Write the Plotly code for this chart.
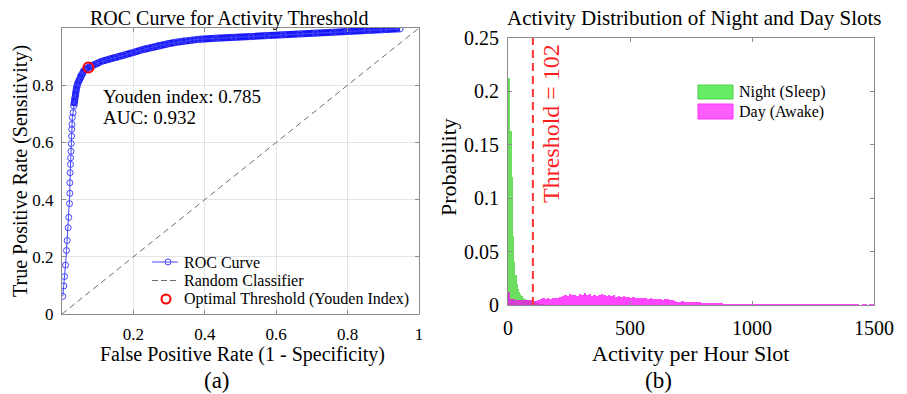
import numpy as np
import plotly.graph_objects as go

FONT = "Liberation Serif, Times New Roman, serif"

# ---------------- ROC data (panel a) ----------------
roc_fpr = [0.0023, 0.0051, 0.0070, 0.0098, 0.0126, 0.0145, 0.0173, 0.0190, 0.0210, 0.0220,
           0.0220, 0.0228, 0.0238, 0.0240, 0.0250, 0.0260, 0.0270, 0.0272, 0.0280, 0.0290,
           0.0310, 0.0330, 0.0350, 0.0380, 0.0410, 0.0450, 0.0520, 0.0610, 0.0740, 0.0900,
           0.1080, 0.1300, 0.1540, 0.1750, 0.2010, 0.2250, 0.2480, 0.2700, 0.2940, 0.3200,
           0.3410, 0.3650, 0.3870, 0.4300, 0.4810, 0.5300, 0.5740, 0.6200, 0.6670, 0.7100,
           0.7600, 0.8000, 0.8540, 0.9000, 0.9470]
roc_tpr = [0.062, 0.098, 0.131, 0.171, 0.222, 0.257, 0.302, 0.338, 0.386, 0.422,
           0.459, 0.494, 0.523, 0.546, 0.569, 0.596, 0.622, 0.646, 0.663, 0.687,
           0.704, 0.727, 0.751, 0.774, 0.792, 0.809, 0.833, 0.850, 0.862, 0.872,
           0.882, 0.890, 0.897, 0.905, 0.915, 0.924, 0.932, 0.939, 0.944, 0.950,
           0.955, 0.958, 0.961, 0.964, 0.967, 0.970, 0.973, 0.976, 0.979, 0.982,
           0.985, 0.988, 0.991, 0.994, 0.997]
opt_fpr = [0.074]
opt_tpr = [0.862]
diag_x = [0, 1]
diag_y = [0, 1]
youden_index = 0.785
auc_value = 0.932
legend_a_labels = ["ROC Curve", "Random Classifier", "Optimal Threshold (Youden Index)"]

# ---------------- Histogram data (panel b) ----------------
night_bin_width = 5
night_prob = [0.213, 0.213, 0.163, 0.120, 0.065, 0.040, 0.028, 0.020, 0.015, 0.012,
              0.010, 0.008, 0.0068, 0.006, 0.0055, 0.005, 0.0048, 0.0045, 0.004, 0.0042,
              0.0035, 0.003, 0.0025, 0.002, 0.0015, 0.0012, 0.001, 0.0008, 0.0006, 0.0005]
day_bin_width = 10
day_prob = [0.0125, 0.0060, 0.0055, 0.0050, 0.0050, 0.0048, 0.0050, 0.0045, 0.0048, 0.0045,
            0.0040, 0.0042, 0.0048, 0.0055, 0.0062, 0.0058, 0.0065, 0.0060, 0.0068, 0.0062,
            0.0070, 0.0075, 0.0085, 0.0092, 0.0088, 0.0105, 0.0095, 0.0098, 0.0085, 0.0105,
            0.0090, 0.0112, 0.0095, 0.0102, 0.0088, 0.0098, 0.0085, 0.0092, 0.0105, 0.0098,
            0.0088, 0.0095, 0.0082, 0.0092, 0.0078, 0.0085, 0.0075, 0.0080, 0.0072, 0.0078,
            0.0070, 0.0074, 0.0068, 0.0065, 0.0070, 0.0062, 0.0065, 0.0060, 0.0062, 0.0058,
            0.0060, 0.0055, 0.0058, 0.0050, 0.0052, 0.0055, 0.0048, 0.0045, 0.0038, 0.0032,
            0.0030, 0.0035, 0.0032, 0.0028, 0.0030, 0.0026, 0.0028, 0.0024, 0.0026, 0.0022,
            0.0022, 0.0020, 0.0022, 0.0018, 0.0020, 0.0016, 0.0018, 0.0015, 0.0014, 0.0013,
            0.0012, 0.0011, 0.0012, 0.0010, 0.0011, 0.0010, 0.0009, 0.0011, 0.0010, 0.0009,
            0.0010, 0.0008, 0.0009, 0.0010, 0.0008, 0.0009, 0.0008, 0.0007, 0.0009, 0.0008,
            0.0008, 0.0007, 0.0008, 0.0009, 0.0007, 0.0008, 0.0007, 0.0006, 0.0008, 0.0007,
            0.0007, 0.0006, 0.0007, 0.0008, 0.0006, 0.0007, 0.0006, 0.0006, 0.0007, 0.0006,
            0.0006, 0.0005, 0.0006, 0.0007, 0.0005, 0.0006, 0.0005, 0.0006, 0.0005, 0.0006,
            0.0005, 0.0005, 0.0006, 0.0005, 0.0004, 0.0005, 0.0005, 0.0004, 0.0005, 0.0005]
threshold = 102
legend_b_labels = ["Night (Sleep)", "Day (Awake)"]

x_ticks_a = [0.2, 0.4, 0.6, 0.8, 1]
x_ticklabels_a = ["0.2", "0.4", "0.6", "0.8", "1"]
y_ticks_a = [0, 0.2, 0.4, 0.6, 0.8]
y_ticklabels_a = ["0", "0.2", "0.4", "0.6", "0.8"]
x_ticks_b = [0, 500, 1000, 1500]
x_ticklabels_b = ["0", "500", "1000", "1500"]
y_ticks_b = [0, 0.05, 0.1, 0.15, 0.2, 0.25]
y_ticklabels_b = ["0", "0.05", "0.1", "0.15", "0.2", "0.25"]

# ---------------- figure ----------------
W, H = 907, 394
def px(x):
    return x / W
def py(y):
    return (H - y) / H

fig = go.Figure()

ROC_C = "rgb(70,70,255)"
band_idx = [i for i, t in enumerate(roc_tpr) if t >= 0.727]
fig.add_trace(go.Scatter(
    x=[roc_fpr[i] for i in band_idx], y=[roc_tpr[i] for i in band_idx],
    mode="lines", line=dict(color="rgb(25,25,245)", width=7),
    hoverinfo="skip", xaxis="x", yaxis="y"))
fig.add_trace(go.Scatter(
    x=roc_fpr, y=roc_tpr, mode="lines+markers", name=legend_a_labels[0],
    line=dict(color=ROC_C, width=1),
    marker=dict(symbol="circle-open", size=6, color=ROC_C, line=dict(width=1)),
    xaxis="x", yaxis="y"))
fig.add_trace(go.Scatter(
    x=diag_x, y=diag_y, mode="lines", name=legend_a_labels[1],
    line=dict(color="rgb(110,110,110)", width=1, dash="6px,4px"),
    xaxis="x", yaxis="y"))
fig.add_trace(go.Scatter(
    x=opt_fpr, y=opt_tpr, mode="markers", name=legend_a_labels[2],
    marker=dict(symbol="circle-open", size=10, color="rgb(255,0,0)", line=dict(width=2)),
    xaxis="x", yaxis="y"))

night_left = np.arange(len(night_prob)) * night_bin_width
day_left = np.arange(len(day_prob)) * day_bin_width
NIGHT_C = "rgba(40,205,20,0.68)"
DAY_C = "rgba(255,0,255,0.72)"
fig.add_trace(go.Bar(
    x=night_left + night_bin_width / 2, y=night_prob, width=night_bin_width,
    marker=dict(color=NIGHT_C, line=dict(width=0)), name=legend_b_labels[0],
    xaxis="x2", yaxis="y2"))
fig.add_trace(go.Bar(
    x=day_left + day_bin_width / 2, y=day_prob, width=day_bin_width,
    marker=dict(color=DAY_C, line=dict(width=0)), name=legend_b_labels[1],
    xaxis="x2", yaxis="y2"))
fig.add_trace(go.Scatter(
    x=[threshold, threshold], y=[0, 0.25], mode="lines",
    line=dict(color="rgb(255,50,50)", width=2, dash="8px,5px"),
    xaxis="x2", yaxis="y2"))

AX = dict(showline=True, linecolor="#8c8c8c", linewidth=1, mirror="allticks",
          ticks="inside", ticklen=4, tickcolor="#8c8c8c", zeroline=False,
          automargin=False)

fig.update_layout(
    width=W, height=H, margin=dict(l=0, r=0, t=0, b=0, autoexpand=False),
    plot_bgcolor="white", paper_bgcolor="white", barmode="overlay", bargap=0,
    showlegend=False,
    font=dict(family=FONT, color="black"),
    xaxis=dict(AX, domain=[px(62), px(419)], range=[0, 1], tickvals=x_ticks_a,
               ticktext=x_ticklabels_a, showgrid=True, gridcolor="#e4e4e4",
               tickfont=dict(family=FONT, size=17, color="black"), ticklabelstandoff=5,
               anchor="y"),
    yaxis=dict(AX, domain=[py(314), py(28)], range=[0, 1], tickvals=y_ticks_a,
               ticktext=y_ticklabels_a, showgrid=True, gridcolor="#e4e4e4",
               tickfont=dict(family=FONT, size=17, color="black"), ticklabelstandoff=4,
               anchor="x"),
    xaxis2=dict(AX, domain=[px(508), px(874)], range=[0, 1500], tickvals=x_ticks_b,
                ticktext=x_ticklabels_b, showgrid=False,
                tickfont=dict(family=FONT, size=20, color="black"), ticklabelstandoff=5,
                anchor="y2"),
    yaxis2=dict(AX, domain=[py(305), py(38)], range=[0, 0.25], tickvals=y_ticks_b,
                ticktext=y_ticklabels_b, showgrid=False,
                tickfont=dict(family=FONT, size=20, color="black"), ticklabelstandoff=4,
                anchor="x2"),
)

ann = []
def add_text(text, x, y, size, xanchor="center", yanchor="middle", angle=0, color="black",
             xref="paper", yref="paper"):
    ann.append(dict(text=text, x=x, y=y, xref=xref, yref=yref, showarrow=False,
                    xanchor=xanchor, yanchor=yanchor, textangle=angle,
                    font=dict(family=FONT, size=size, color=color)))

add_text("ROC Curve for Activity Threshold", px(229), py(18), 20)
add_text("Activity Distribution of Night and Day Slots", px(694), py(18), 21)
add_text("False Positive Rate (1 - Specificity)", px(242), py(354), 20)
add_text("Activity per Hour Slot", px(690), py(353), 22)
add_text("(a)", px(217), py(380), 23)
add_text("(b)", px(658), py(380), 23)
add_text("True Positive Rate (Sensitivity)", px(20), py(171), 20, angle=-90)
add_text("Probability", px(448), py(167), 22, angle=-90)
add_text(f"Youden index: {youden_index}", 0.108, 0.761, 19, xanchor="left",
         xref="x", yref="y")
add_text(f"AUC: {auc_value}", 0.108, 0.688, 19, xanchor="left", xref="x", yref="y")
add_text(f"Threshold = {threshold}", px(551), py(124), 24, angle=-90, color="rgb(255,30,30)")

shapes = []
# manual legend, panel a
rows_a = [262, 280.5, 299]
shapes.append(dict(type="line", xref="paper", yref="paper", x0=px(152), x1=px(178),
                   y0=py(rows_a[0]), y1=py(rows_a[0]), line=dict(color=ROC_C, width=1)))
shapes.append(dict(type="circle", xref="paper", yref="paper", x0=px(165), x1=px(171),
                   y0=py(rows_a[0] + 3), y1=py(rows_a[0] - 3),
                   line=dict(color=ROC_C, width=1), fillcolor="rgba(0,0,0,0)"))
shapes.append(dict(type="line", xref="paper", yref="paper", x0=px(152), x1=px(178),
                   y0=py(rows_a[1]), y1=py(rows_a[1]),
                   line=dict(color="rgb(110,110,110)", width=1, dash="6px,3px")))
shapes.append(dict(type="circle", xref="paper", yref="paper", x0=px(161.5), x1=px(170.5),
                   y0=py(rows_a[2] + 4.5), y1=py(rows_a[2] - 4.5),
                   line=dict(color="rgb(255,0,0)", width=2), fillcolor="rgba(0,0,0,0)"))
for label, ry in zip(legend_a_labels, rows_a):
    add_text(label, px(182), py(ry), 16, xanchor="left")

# manual legend, panel b
legend_b_style = [("#66ee66", "#4fcf4f", 85, 99), ("#ff5cff", "#ff33ff", 104, 119)]
for label, (fill, edge, y0, y1) in zip(legend_b_labels, legend_b_style):
    shapes.append(dict(type="rect", xref="paper", yref="paper", x0=px(698), x1=px(733),
                       y0=py(y1), y1=py(y0), fillcolor=fill, line=dict(color=edge, width=1)))
    add_text(label, px(737), py((y0 + y1) / 2), 16, xanchor="left")

fig.update_layout(annotations=ann, shapes=shapes)
fig.write_html("out.html")
